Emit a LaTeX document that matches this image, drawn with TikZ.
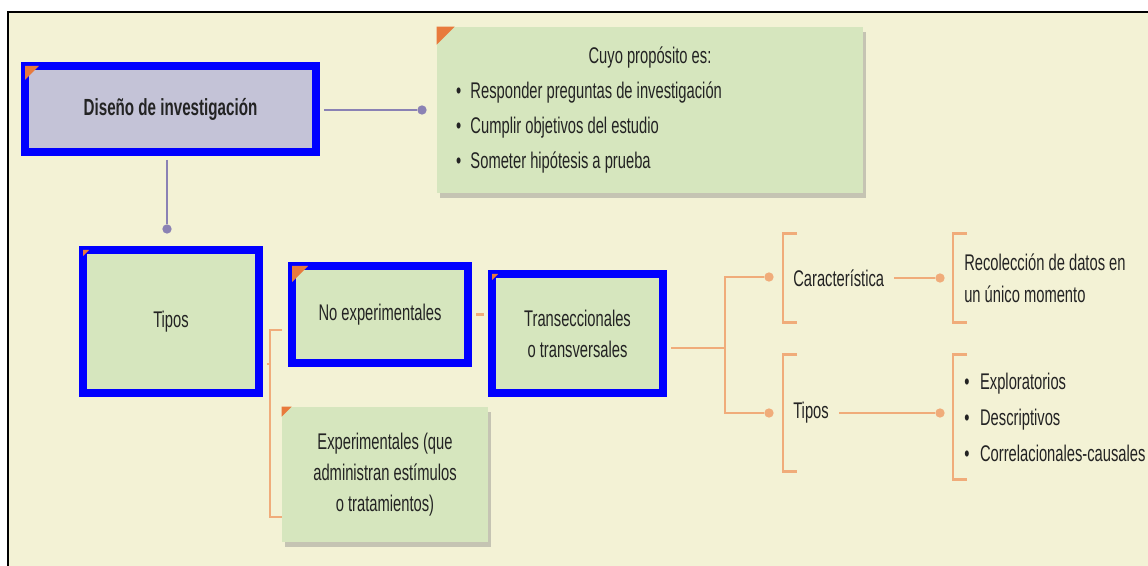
\documentclass[tikz,border=0pt]{standalone}
\usepackage{fontspec}
\setmainfont{Liberation Sans}[FakeStretch=0.65]
\usetikzlibrary{positioning,shadows}
\definecolor{panelcream}{RGB}{243,242,213}
\definecolor{cardgreen}{RGB}{214,230,190}
\definecolor{cardlilac}{RGB}{196,195,215}
\definecolor{frameblue}{RGB}{0,0,255}
\definecolor{cornerorange}{RGB}{232,122,60}
\definecolor{branchorange}{RGB}{240,172,122}
\definecolor{linkpurple}{RGB}{138,130,180}
\definecolor{inkgray}{RGB}{35,35,35}

% orange flag in the top left corner of a card
\newcommand\corner[3]{\fill[cornerorange] ([xshift=#2,yshift=-#2]#1.north west) -- ++(#3,0) -- ++(-#3,-#3) -- cycle;}
% open bracket on the left side of a group
\newcommand\bracket[1]{\draw[branch] ([xshift=10.5pt]#1.north west) -- (#1.north west) -- (#1.south west) -- ([xshift=10.5pt]#1.south west);}

\begin{document}
\begin{tikzpicture}[x=0.75pt, y=-0.75pt,
    every node/.style={font=\fontsize{17}{23.25}\selectfont, text=inkgray},
    card/.style={fill=cardgreen, inner sep=0pt, align=center},
    bluebox/.style={draw=frameblue, line width=6pt},
    castshadow/.style={drop shadow={shadow xshift=2.5pt, shadow yshift=-4pt, opacity=0.4}},
    link/.style={draw=linkpurple, line width=2pt},
    branch/.style={draw=branchorange, line width=2.2pt},
    dot/.style={circle, inner sep=0pt, minimum size=7pt},
    brgroup/.style={anchor=west, inner xsep=7.5pt, align=left}]
\useasboundingbox (0,0) rectangle (1148,566);
\clip (0,0) rectangle (1148,566);
\fill[white] (0,0) rectangle (1148,566);
\draw[fill=panelcream, line width=1.2pt] (8,12) rectangle (1170,590);

% cards
\node[card, bluebox, fill=cardlilac, minimum width=218.25pt, minimum height=64.5pt,
      font=\fontsize{17.5}{20}\selectfont\bfseries] (diseno) at (170.5,109) {Diseño de investigación};
\node[card, castshadow, minimum width=319.5pt, minimum height=124.5pt] (proposito) at (650,110)
  {\fontsize{17}{26.25}\selectfont\begin{minipage}{291pt}\centering Cuyo propósito es:\par\raggedright
   \textbullet\hspace{7pt}Responder preguntas de investigación\par
   \textbullet\hspace{7pt}Cumplir objetivos del estudio\par
   \textbullet\hspace{7pt}Someter hipótesis a prueba\end{minipage}};
\node[card, bluebox, minimum width=132pt, minimum height=107.25pt] (tipos) at (171,321.5) {Tipos};
\node[card, bluebox, minimum width=132pt, minimum height=72.75pt] (noexp) at (380,314.5) {No experimentales};
\node[card, castshadow, minimum width=154.5pt, minimum height=101.25pt] (exper) at (385,474.5)
  {Experimentales (que\\administran estímulos\\o tratamientos)};
\node[card, bluebox, minimum width=128.25pt, minimum height=89.25pt] (trans) at (577.5,333.5)
  {Transeccionales\\o transversales};
\corner{diseno}{3pt}{10.5pt}
\corner{proposito}{0pt}{13.5pt}
\corner{tipos}{3pt}{4.5pt}
\corner{noexp}{3pt}{12pt}
\corner{exper}{0pt}{7.5pt}
\corner{trans}{3pt}{4.5pt}

% right hand groups
\node[brgroup, minimum height=66pt] (caract) at (783,278) {Característica};
\node[brgroup, minimum height=66pt, inner xsep=8.25pt, font=\fontsize{17}{24}\selectfont] (recol) at (953,278)
  {Recolección de datos en\\un único momento};
\node[brgroup, minimum height=87pt] (tipos2) at (783,413) {Tipos};
\node[brgroup, minimum height=93pt, inner xsep=8.25pt, font=\fontsize{17}{27}\selectfont] (lista) at (953,417)
  {\textbullet\hspace{8pt}Exploratorios\\\textbullet\hspace{8pt}Descriptivos\\\textbullet\hspace{8pt}Correlacionales-causales};
\bracket{caract}
\bracket{recol}
\bracket{tipos2}
\bracket{lista}

% dots
\node[dot, fill=linkpurple] (pdot) at (422,110) {};
\node[dot, fill=linkpurple] (tdot) at (167,229) {};
\node[dot, fill=branchorange] (cdot) at (769,277) {};
\node[dot, fill=branchorange] (ldot) at (769,413) {};
\node[dot, fill=branchorange] (rdot) at (940,278) {};
\node[dot, fill=branchorange] (edot) at (940,413) {};
\coordinate (fork) at (270,364);
\coordinate (forktop) at (282,330);
\coordinate (forkbot) at (282,517);
\coordinate (split) at (725,348);

% connectors
\draw[link, shorten <=3pt] (diseno.east |- pdot) -- (pdot);
\draw[link, shorten <=3pt] (diseno.south -| tdot) -- (tdot);
\draw[branch, shorten <=3pt] (tipos.east |- fork) -- (fork);
\draw[branch] (forktop) -| (fork) |- (forkbot);
\draw[branch, shorten <=3pt, shorten >=3pt] (noexp.east) -- (noexp.east -| trans.west);
\draw[branch, shorten <=3pt] (trans.east |- split) -- (split);
\draw[branch] (cdot) -- (cdot -| split) -- (ldot -| split) -- (ldot);
\draw[branch] (caract.east) -- (rdot);
\draw[branch] (tipos2.east) -- (edot);
\end{tikzpicture}
\end{document}
